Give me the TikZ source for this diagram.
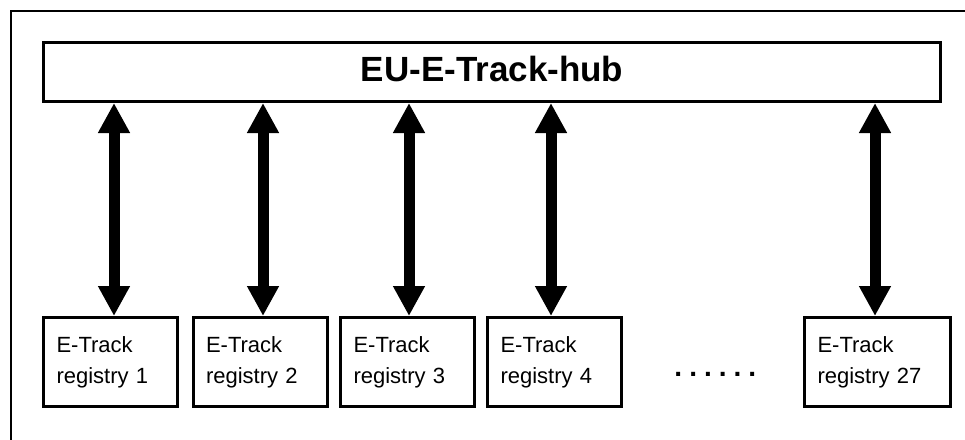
\documentclass[tikz,border=0pt]{standalone}
\usepackage{fontspec}
\setmainfont{Liberation Sans}
\usetikzlibrary{arrows.meta}
\tikzset{
  frameline/.style={line width=2pt},
  hubbox/.style={draw, line width=3pt, inner sep=0pt, minimum width=897pt, minimum height=59pt,
    text height=25pt, text depth=5.6pt, font=\fontsize{35}{40}\selectfont\bfseries},
  regbox/.style={draw, line width=3pt, inner sep=0pt, minimum height=89pt, align=left,
    font=\fontsize{22}{31}\selectfont},
  biarrow/.style={line width=11pt, {Triangle[width=30pt,length=30pt]}-{Triangle[width=30pt,length=30pt]}},
  dotsnode/.style={inner sep=0pt, font=\fontsize{28}{30}\selectfont\bfseries}
}
\begin{document}
\begin{tikzpicture}[x=1pt,y=-1pt]
\useasboundingbox (0,0) rectangle (965,439);
\draw[frameline] (11,445) -- (11,11) -- (970,11);
\node[hubbox] (hub) at (492,72) {EU-E-Track-hub};
\node[regbox, minimum width=134pt, text width=108pt] (r1) at (110.5,362) {E-Track\\registry 1};
\node[regbox, minimum width=134pt, text width=108pt] (r2) at (260,362) {E-Track\\registry 2};
\node[regbox, minimum width=134pt, text width=108pt] (r3) at (407.5,362) {E-Track\\registry 3};
\node[regbox, minimum width=134pt, text width=108pt] (r4) at (554.5,362) {E-Track\\registry 4};
\node[regbox, minimum width=146pt, text width=120pt] (r27) at (877.5,362) {E-Track\\registry 27};
\node[dotsnode, anchor=base] (dots) at (715.3,376) {.\hspace{7pt}.\hspace{7pt}.\hspace{7pt}.\hspace{7pt}.\hspace{7pt}.};
\coordinate (x1) at (114,0);
\coordinate (x2) at (263,0);
\coordinate (x3) at (409,0);
\coordinate (x4) at (551,0);
\coordinate (x27) at (875,0);
\draw[biarrow] (hub.south -| x1) -- (r1.north -| x1);
\draw[biarrow] (hub.south -| x2) -- (r2.north -| x2);
\draw[biarrow] (hub.south -| x3) -- (r3.north -| x3);
\draw[biarrow] (hub.south -| x4) -- (r4.north -| x4);
\draw[biarrow] (hub.south -| x27) -- (r27.north -| x27);
\end{tikzpicture}
\end{document}
